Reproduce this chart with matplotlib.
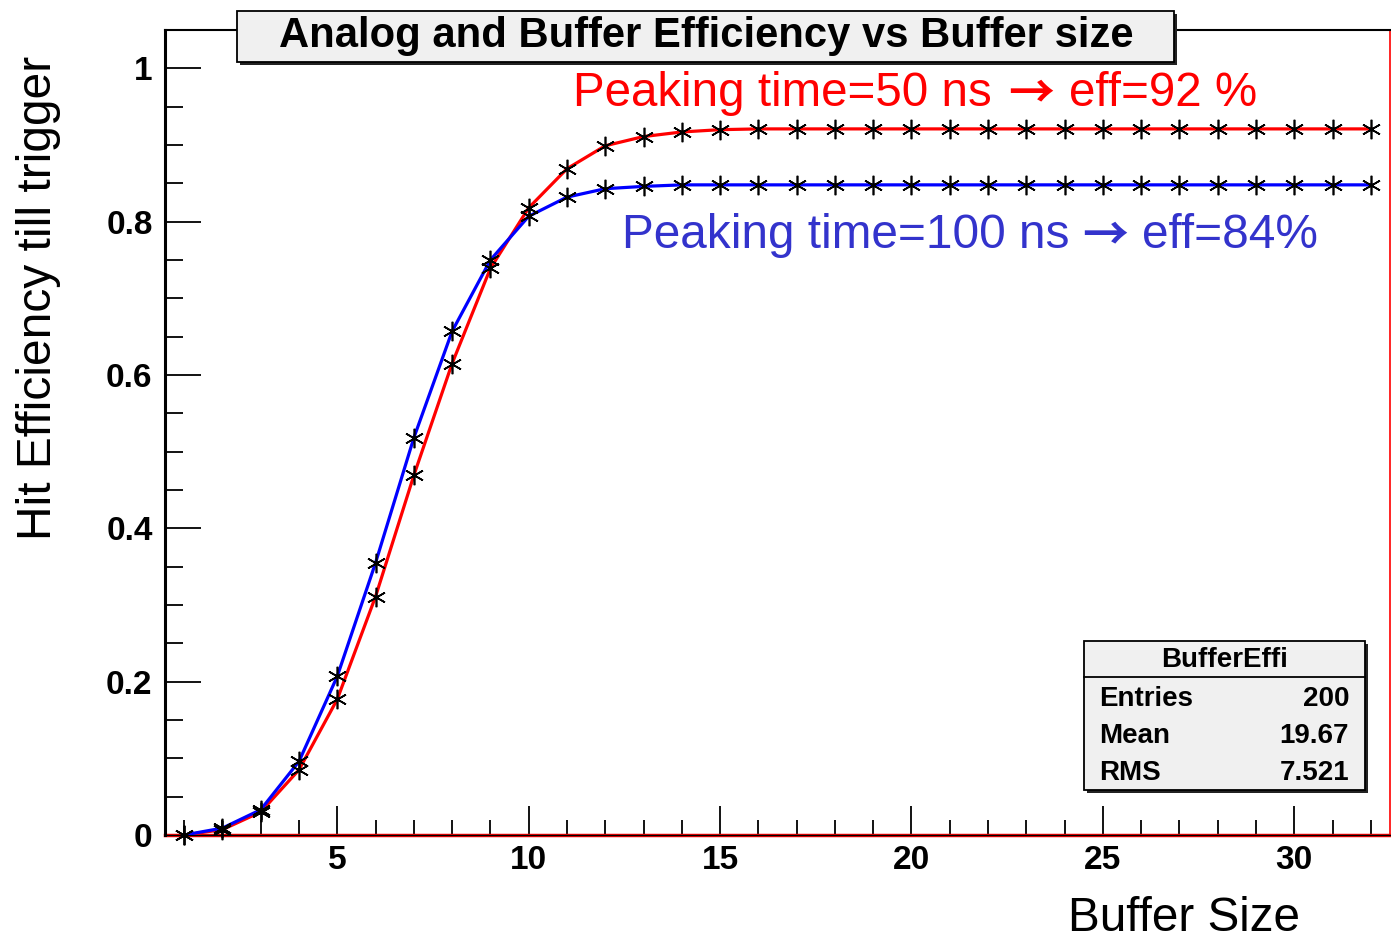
import matplotlib
matplotlib.use("Agg")
import matplotlib.pyplot as plt
from matplotlib.patches import Rectangle
from matplotlib.lines import Line2D
from matplotlib.ticker import MultipleLocator

# ---------------- data ----------------
buffer_size = [1, 2, 3, 4, 5, 6, 7, 8, 9, 10, 11, 12, 13, 14, 15, 16,
               17, 18, 19, 20, 21, 22, 23, 24, 25, 26, 27, 28, 29, 30, 31, 32]
eff_50ns = [0.0, 0.007, 0.030, 0.085, 0.177, 0.311, 0.469, 0.615, 0.739, 0.818,
            0.869, 0.899, 0.911, 0.917, 0.920, 0.921, 0.921, 0.921, 0.921, 0.921,
            0.921, 0.921, 0.921, 0.921, 0.921, 0.921, 0.921, 0.921, 0.921, 0.921,
            0.921, 0.921]
eff_100ns = [0.0, 0.009, 0.033, 0.096, 0.207, 0.355, 0.518, 0.657, 0.750, 0.807,
             0.832, 0.843, 0.846, 0.848, 0.848, 0.848, 0.848, 0.848, 0.848, 0.848,
             0.848, 0.848, 0.848, 0.848, 0.848, 0.848, 0.848, 0.848, 0.848, 0.848,
             0.848, 0.848]

title_text = "Analog and Buffer Efficiency vs Buffer size"
xlabel_text = "Buffer Size"
ylabel_text = "Hit Efficiency till trigger"
label_50 = ["Peaking time=50 ns", "\u2192", "eff=92 %"]
label_100 = ["Peaking time=100 ns", "\u2192", "eff=84%"]
stats_name = "BufferEffi"
stats_labels = ["Entries", "Mean", "RMS"]
stats_values = ["200", "19.67", "7.521"]

# ---------------- figure ----------------
W, H = 1391, 940
fig = plt.figure(figsize=(W / 100, H / 100), dpi=100)
fig.patch.set_facecolor("white")
FONT = ["Liberation Sans", "DejaVu Sans"]
ARROW_FONT = ["Noto Sans CJK SC", "DejaVu Sans"]


def fx(x):
    return x / W


def fy(y):
    return 1 - y / H


ax_l, ax_r, ax_t, ax_b = 165, 1390, 30, 835
ax = fig.add_axes([fx(ax_l), fy(ax_b), (ax_r - ax_l) / W, (ax_b - ax_t) / H])
ax.set_xlim(0.5, 32.5)
ax.set_ylim(0, 1.05)

ax.plot(buffer_size, eff_50ns, color="#ff0000", lw=2.3, zorder=3,
        solid_joinstyle="round")
ax.plot(buffer_size, eff_100ns, color="#0000ff", lw=2.3, zorder=4,
        solid_joinstyle="round")
for ys in (eff_50ns, eff_100ns):
    ax.plot(buffer_size, ys, ls="none", marker=(6, 2, 0), ms=14,
            mec="black", mew=1.2, zorder=5, clip_on=False)

ax.axhline(0, color="#ff0000", lw=2.5, zorder=2, clip_on=False)

# spines
for s in ("left", "bottom", "top"):
    ax.spines[s].set_color("black")
ax.spines["left"].set_linewidth(2.2)
ax.spines["bottom"].set_linewidth(1.0)
ax.spines["top"].set_linewidth(1.5)
ax.spines["right"].set_color("#ff0000")
ax.spines["right"].set_linewidth(1.2)

# ticks
ax.xaxis.set_major_locator(MultipleLocator(5))
ax.xaxis.set_minor_locator(MultipleLocator(1))
ax.yaxis.set_major_locator(MultipleLocator(0.2))
ax.yaxis.set_minor_locator(MultipleLocator(0.05))
ax.tick_params(axis="x", which="major", direction="in", length=21, width=1.3,
               pad=7, top=False)
ax.tick_params(axis="x", which="minor", direction="in", length=11, width=1.3,
               top=False)
ax.tick_params(axis="y", which="major", direction="in", length=26, width=1.3,
               pad=9, right=False)
ax.tick_params(axis="y", which="minor", direction="in", length=13, width=1.3,
               right=False)
ax.set_yticks([0, 0.2, 0.4, 0.6, 0.8, 1.0])
ax.set_yticklabels(["0", "0.2", "0.4", "0.6", "0.8", "1"])
for lab in ax.get_xticklabels() + ax.get_yticklabels():
    lab.set_fontfamily(FONT)
    lab.set_fontweight("bold")
    lab.set_fontsize(24)

renderer = fig.canvas.get_renderer()


def fit(t, target, vertical=False):
    for _ in range(4):
        bb = t.get_window_extent(renderer)
        w = bb.height if vertical else bb.width
        t.set_fontsize(t.get_fontsize() * target / w)


# axis labels
xl = fig.text(fx(1300), fy(931), xlabel_text, ha="right", va="baseline",
              fontsize=34, family=FONT, color="black")
fit(xl, 232)
yl = fig.text(fx(51), fy(298), ylabel_text, rotation=90, ha="center",
              va="baseline", fontsize=34, family=FONT, color="black",
              rotation_mode="anchor")
fit(yl, 485, vertical=True)


# annotations: prefix, arrow glyph, suffix
def annotate(parts, x0, x_pre_end, x_arrow_c, x1, y_base, color):
    pre = fig.text(fx(x0), fy(y_base), parts[0], ha="left", va="baseline",
                   fontsize=34, family=FONT, color=color)
    fit(pre, x_pre_end - x0)
    suf = fig.text(fx(x1), fy(y_base), parts[2], ha="right", va="baseline",
                   fontsize=pre.get_fontsize(), family=FONT, color=color)
    fig.text(fx(x_arrow_c), fy(y_base + 1), parts[1], ha="center",
             va="baseline", fontsize=33, family=ARROW_FONT,
             fontweight="bold", color=color)
    return pre, suf


annotate(label_50, 573, 992, 1031, 1257, 106, "#ff0000")
annotate(label_100, 622, 1069, 1105, 1318, 248, "#3333cc")


def box(x0, y0, x1, y1, z=10):
    sh = Rectangle((fx(x0 + 3), fy(y1 + 3)), (x1 - x0) / W, (y1 - y0) / H,
                   transform=fig.transFigure, facecolor="#222222",
                   edgecolor="none", zorder=z)
    fig.add_artist(sh)
    bx = Rectangle((fx(x0), fy(y1)), (x1 - x0) / W, (y1 - y0) / H,
                   transform=fig.transFigure, facecolor="#f0f0f0",
                   edgecolor="black", lw=1.3, zorder=z + 0.1)
    fig.add_artist(bx)


# title box
box(237, 11, 1174, 62)
tt = fig.text(fx(706), fy(47), title_text, ha="center", va="baseline",
              fontsize=27, family=FONT, fontweight="bold", color="black",
              zorder=12)
fit(tt, 855)

# stats box
box(1084, 641, 1365, 790)
fig.add_artist(Line2D([fx(1084), fx(1365)], [fy(677), fy(677)],
                      transform=fig.transFigure, color="black", lw=1.3,
                      zorder=12))
fig.text(fx(1225), fy(667), stats_name, ha="center", va="baseline",
         fontsize=20, family=FONT, fontweight="bold", zorder=12)
for lab, val, yb in zip(stats_labels, stats_values, [706, 743, 780]):
    fig.text(fx(1099), fy(yb), lab, ha="left", va="baseline", fontsize=20,
             family=FONT, fontweight="bold", zorder=12)
    fig.text(fx(1349), fy(yb), val, ha="right", va="baseline", fontsize=20,
             family=FONT, fontweight="bold", zorder=12)

fig.savefig("out.png", dpi=100, facecolor="white")
